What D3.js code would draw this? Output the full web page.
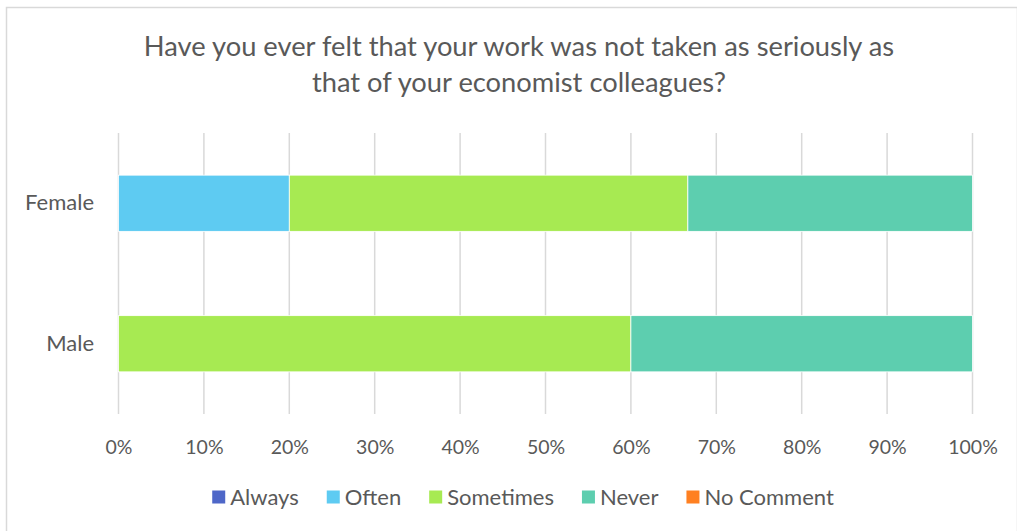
<!DOCTYPE html>
<html>
<head>
<meta charset="utf-8">
<script src="https://cdn.jsdelivr.net/npm/d3@7"></script>
<style>
  html, body { margin: 0; padding: 0; background: #fff; }
  svg text { font-family: Lato, "Open Sans", sans-serif; fill: #595959; }
</style>
</head>
<body>
<svg id="chart" width="1017" height="531"></svg>
<script>
// Survey responses by gender (share of respondents)
const categories = ["Female", "Male"];
const seriesNames = ["Always", "Often", "Sometimes", "Never", "No Comment"];
const seriesColors = ["#4e67c8", "#5ecbf2", "#a7ea52", "#5dceaf", "#ff8021"];
const always    = [0, 0];
const often     = [0.2, 0];
const sometimes = [0.4667, 0.6];
const never     = [0.3333, 0.4];
const noComment = [0, 0];
const tickValues = [0, 0.1, 0.2, 0.3, 0.4, 0.5, 0.6, 0.7, 0.8, 0.9, 1.0];
const titleLines = ["Have you ever felt that your work was not taken as seriously as",
                    "that of your economist colleagues?"];

const seriesValues = [always, often, sometimes, never, noComment];
const rows = categories.map((c, i) => {
  const r = { category: c };
  seriesNames.forEach((s, j) => r[s] = seriesValues[j][i]);
  return r;
});

const svg = d3.select("#chart");
const W = 1017, H = 531;

// chart frame
svg.append("rect")
  .attr("x", 6.5).attr("y", 7.5)
  .attr("width", W - 6).attr("height", H - 6)
  .attr("fill", "#fff").attr("stroke", "#d9d9d9").attr("stroke-width", 1.5);

// title
svg.append("g").selectAll("text")
  .data(titleLines).join("text")
  .attr("x", 519).attr("y", (d, i) => 56 + i * 36)
  .attr("text-anchor", "middle")
  .style("font-size", "27.3px")
  .text(d => d);

const margin = { left: 118.5, right: W - 972.5, top: 133, bottom: H - 414 };
const x = d3.scaleLinear().domain([0, 1]).range([margin.left, W - margin.right]);
const y = d3.scaleBand().domain(categories)
  .range([margin.top, H - margin.bottom])
  .paddingInner(0.6).paddingOuter(0.3);

// vertical gridlines
svg.append("g").selectAll("line")
  .data(tickValues).join("line")
  .attr("x1", d => x(d)).attr("x2", d => x(d))
  .attr("y1", margin.top).attr("y2", H - margin.bottom)
  .attr("stroke", "#d9d9d9").attr("stroke-width", 1.5);

// stacked bars
const stack = d3.stack().keys(seriesNames)(rows);
const color = d3.scaleOrdinal().domain(seriesNames).range(seriesColors);
svg.append("g").selectAll("g")
  .data(stack).join("g")
  .attr("fill", d => color(d.key))
  .selectAll("rect")
  .data(d => d.filter(p => p[1] - p[0] > 0)).join("rect")
  .attr("x", d => x(d[0]))
  .attr("y", d => y(d.data.category))
  .attr("width", d => x(d[1]) - x(d[0]))
  .attr("height", y.bandwidth())
  .attr("stroke", "#fff").attr("stroke-width", 0.8);

// x axis labels
const xAxis = d3.axisBottom(x).tickValues(tickValues)
  .tickFormat(d3.format(".0%")).tickSize(0).tickPadding(0);
const gx = svg.append("g").attr("transform", `translate(0,447)`).call(xAxis);
gx.select(".domain").remove();
gx.selectAll("text").style("font-size", "19.5px").attr("fill", "#595959")
  .style("font-family", "Lato, 'Open Sans', sans-serif").attr("y", 0).attr("dy", "0.36em");

// y axis labels
const yAxis = d3.axisLeft(y).tickSize(0).tickPadding(0);
const gy = svg.append("g").attr("transform", `translate(94,0)`).call(yAxis);
gy.select(".domain").remove();
gy.selectAll("text").style("font-size", "22px").attr("fill", "#595959")
  .style("font-family", "Lato, 'Open Sans', sans-serif");

// legend
const legend = svg.append("g");
const items = legend.selectAll("g").data(seriesNames).join("g");
items.append("rect").attr("width", 13).attr("height", 13).attr("y", -6.5)
  .attr("fill", d => color(d));
items.append("text").attr("x", 18).attr("dy", "0.36em")
  .style("font-size", "22px").text(d => d);
let cx = 0;
const gap = 28;
items.each(function () {
  const g = d3.select(this);
  g.attr("transform", `translate(${cx},0)`);
  cx += 18 + g.select("text").node().getComputedTextLength() + gap;
});
const legendWidth = cx - gap;
legend.attr("transform", `translate(${523 - legendWidth / 2},497)`);
</script>
</body>
</html>
